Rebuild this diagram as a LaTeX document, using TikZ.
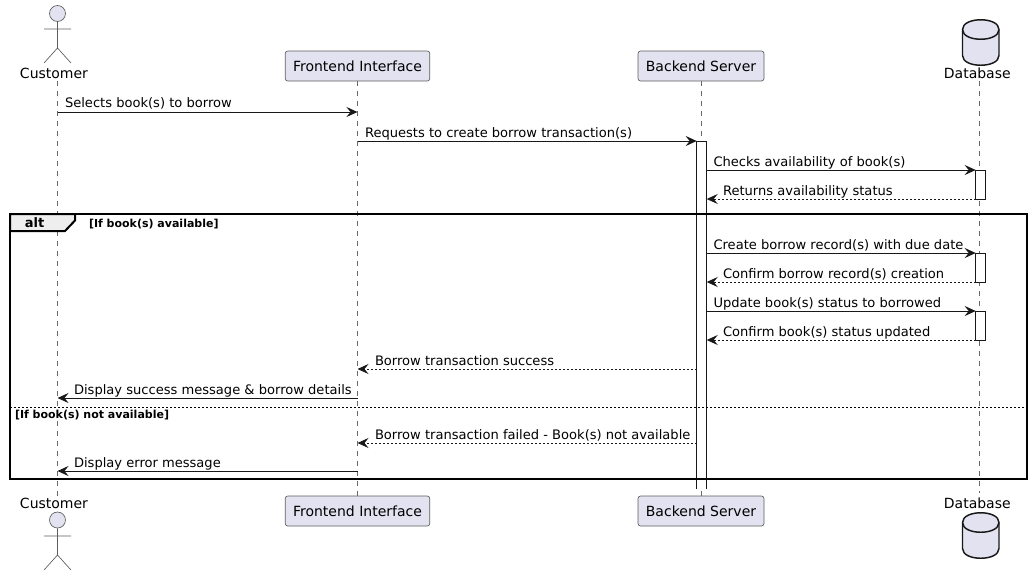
\documentclass[tikz,border=0pt]{standalone}
\usepackage{fontspec}
\setmainfont{DejaVu Sans}
\usetikzlibrary{arrows.meta,calc}
\definecolor{pfill}{HTML}{E2E2F0}
\definecolor{pline}{HTML}{181818}
\definecolor{tabfill}{HTML}{EEEEEE}
\tikzset{
  msg/.style={draw=pline,line width=0.75pt,-{Stealth[length=8.25pt,width=7.5pt,inset=3pt]}},
  ret/.style={msg,dash pattern=on 1.5pt off 1.5pt},
  msglbl/.style={anchor=base west,inner sep=0pt,outer sep=0pt,text=black,font=\fontsize{9.8}{12}\selectfont},
  partlbl/.style={anchor=base,inner sep=0pt,outer sep=0pt,text=black,font=\fontsize{10.5}{13}\selectfont},
  guardlbl/.style={anchor=base west,inner sep=0pt,outer sep=0pt,text=black,font=\fontsize{8.25}{10}\selectfont\bfseries},
  part/.style={draw=pline!70,line width=0.5pt,fill=pfill,rounded corners=1.9pt,minimum width=#1*0.75pt,minimum height=22.5pt,inner sep=0pt,text=black,font=\fontsize{10.5}{13}\selectfont},
  lifeline/.style={draw=pline!65,line width=0.4pt,dash pattern=on 3.75pt off 3.75pt},
  actbar/.style={fill=white,minimum width=7.5pt,inner sep=0pt,outer sep=0pt},
  actedge/.style={draw=pline,line width=0.75pt},
  stick/.style={draw=pline!70,line width=0.5pt},
  headc/.style={draw=pline!70,line width=0.5pt,fill=pfill},
  cyl/.style={draw=pline,line width=1.1pt,fill=pfill},
  frameb/.style={draw=black,line width=1.5pt},
}
\begin{document}
\begin{tikzpicture}[x=0.75pt,y=-0.75pt]
\useasboundingbox (0,0) rectangle (1032,576);
% anchors
\coordinate (custT) at (57.5,81);  \coordinate (custB) at (57.5,497);
\coordinate (dbT) at (979.7,81);   \coordinate (dbB) at (979.7,493);
\foreach \n/\y in {y1/112,y2/141,y3/170,y4/199,y5/253,y6/282,y7/311,y8/340,y9/369,y10/398,y11/443,y12/471}{\coordinate (\n) at (0,\y);}
% participants
\node[part=144.5] (frontT) at (357.5,66) {Frontend Interface};
\node[part=126] (backT) at (701,66) {Backend Server};
\node[part=144.5] (frontB) at (357.5,511) {Frontend Interface};
\node[part=126] (backB) at (701,511) {Backend Server};
% lifelines
\draw[lifeline] (custT) -- (custB);
\draw[lifeline] (frontT.south) -- (frontB.north);
\draw[lifeline] (backT.south) -- (backB.north);
\draw[lifeline] (dbT) -- (dbB);
% actors
\node[headc,circle,minimum size=12pt,inner sep=0pt] (headT) at (57.5,13.5) {};
\coordinate (hipT) at (57.5,48);
\coordinate (armLT) at (44,29); \coordinate (armRT) at (71,29);
\coordinate (legLT) at (44,63); \coordinate (legRT) at (71,63);
\draw[stick] (headT) -- (hipT) (armLT) -- (armRT) (legLT) -- (hipT) -- (legRT);
\node[partlbl] (custlT) at (54,78) {Customer};
\node[partlbl] (custlB) at (54,508.5) {Customer};
\node[headc,circle,minimum size=12pt,inner sep=0pt] (headB) at (57.5,520) {};
\coordinate (hipB) at (57.5,555);
\coordinate (armLB) at (44,536); \coordinate (armRB) at (71,536);
\coordinate (legLB) at (44,570); \coordinate (legRB) at (71,570);
\draw[stick] (headB) -- (hipB) (armLB) -- (armRB) (legLB) -- (hipB) -- (legRB);
% databases
\foreach \t in {19.5,512.5}{
  \draw[cyl] (962.5,\t+10) .. controls (962.5,\t-3) and (999,\t-3) .. (999,\t+10)
     -- (999,\t+36) .. controls (999,\t+49) and (962.5,\t+49) .. (962.5,\t+36) -- cycle;
  \draw[cyl,fill=none] (962.5,\t+10) .. controls (962.5,\t+23) and (999,\t+23) .. (999,\t+10);
}
\node[partlbl] (dblT) at (977.3,78) {Database};
\node[partlbl] (dblB) at (977.3,508.5) {Database};
% activations
\node[actbar,anchor=north,minimum height=261pt] (actB) at (701.7,141) {};
\draw[actedge] (actB.south west) -- (actB.north west) -- (actB.north east) -- (actB.south east);
\node[actbar,anchor=north,minimum height=21.75pt,actedge] (actD1) at (980.7,170.3) {};
\node[actbar,anchor=north,minimum height=21.75pt,actedge] (actD2) at (980.7,253.3) {};
\node[actbar,anchor=north,minimum height=21.75pt,actedge] (actD3) at (980.7,311.3) {};
% frame
\draw[frameb] (10,214) rectangle (1027,479);
\draw[frameb,fill=tabfill] (10,214) -- (75,214) -- (75,220.5) -- (65,231) -- (10,231) -- cycle;
\draw[draw=black,line width=0.75pt,dash pattern=on 1.5pt off 1.5pt] (10,407) -- (1027,407);
\node[anchor=base,inner sep=0pt,font=\fontsize{9.75}{12}\selectfont\bfseries] (altl) at (34.5,227) {alt};
\node[guardlbl] (g1) at (89,227) {[If book(s) available]};
\node[guardlbl] (g2) at (15,418) {[If book(s) not available]};
% messages
\draw[msg] (custT |- y1) -- (frontT |- y1);
\node[msglbl] (m1) at (65,107.5) {Selects book(s) to borrow};
\draw[msg] (frontT |- y2) -- (actB.west |- y2);
\node[msglbl] (m2) at (365,137) {Requests to create borrow transaction(s)};
\draw[msg] (actB.east |- y3) -- (actD1.west |- y3);
\node[msglbl] (m3) at (713.5,166) {Checks availability of book(s)};
\draw[ret] (actD1.west |- y4) -- (actB.east |- y4);
\node[msglbl] (m4) at (723,195) {Returns availability status};
\draw[msg] (actB.east |- y5) -- (actD2.west |- y5);
\node[msglbl] (m5) at (713.5,249) {Create borrow record(s) with due date};
\draw[ret] (actD2.west |- y6) -- (actB.east |- y6);
\node[msglbl] (m6) at (723,278) {Confirm borrow record(s) creation};
\draw[msg] (actB.east |- y7) -- (actD3.west |- y7);
\node[msglbl] (m7) at (713.5,307) {Update book(s) status to borrowed};
\draw[ret] (actD3.west |- y8) -- (actB.east |- y8);
\node[msglbl] (m8) at (723,336) {Confirm book(s) status updated};
\draw[ret] (actB.west |- y9) -- (frontT |- y9);
\node[msglbl] (m9) at (375,365) {Borrow transaction success};
\draw[msg] (frontT |- y10) -- (custT |- y10);
\node[msglbl] (m10) at (74,394) {Display success message \& borrow details};
\draw[ret] (actB.west |- y11) -- (frontT |- y11);
\node[msglbl] (m11) at (375,439) {Borrow transaction failed - Book(s) not available};
\draw[msg] (frontT |- y12) -- (custT |- y12);
\node[msglbl] (m12) at (74,467) {Display error message};
\end{tikzpicture}
\end{document}
